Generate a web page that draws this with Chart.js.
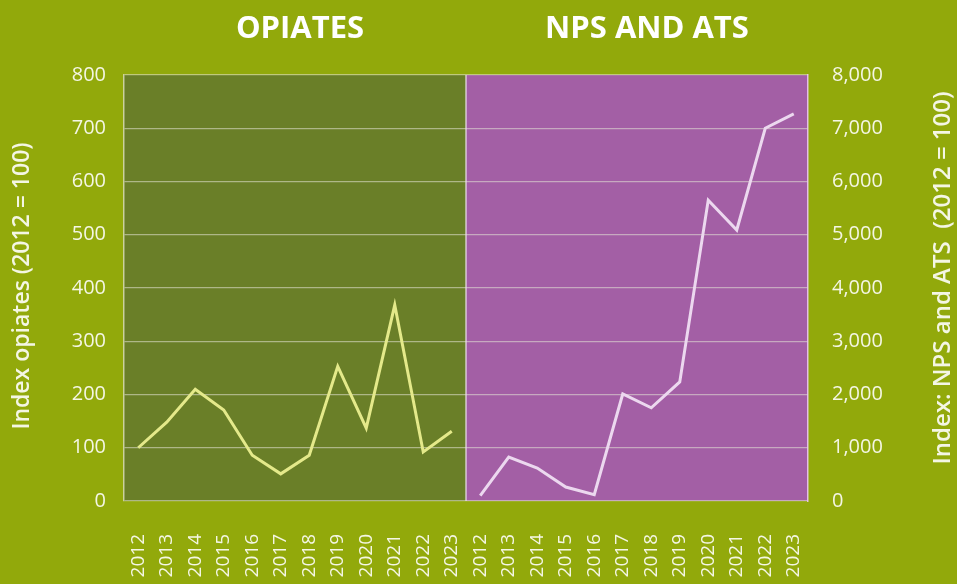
<!DOCTYPE html>
<html>
<head>
<meta charset="utf-8">
<script src="https://cdn.jsdelivr.net/npm/chart.js@4/dist/chart.umd.min.js"></script>
<style>
  html, body { margin: 0; padding: 0; background: #92a90b; }
  #wrap { width: 957px; height: 584px; }
</style>
</head>
<body>
<div id="wrap"><canvas id="chart" width="957" height="584"></canvas></div>
<script>
// Index values, 2012 = 100
const YEARS = ['2012', '2013', '2014', '2015', '2016', '2017', '2018', '2019', '2020', '2021', '2022', '2023']
const OPIATES = [100, 148, 210, 171, 86, 51, 86, 253, 137, 368, 92, 131]
const NPS_ATS = [100, 826, 620, 263, 120, 2010, 1750, 2235, 5650, 5090, 7000, 7270]
const PANEL_TITLES = ['OPIATES', 'NPS AND ATS']
const LEFT_AXIS_TITLE = 'Index opiates (2012 = 100)'
const RIGHT_AXIS_TITLE = 'Index: NPS and ATS  (2012 = 100)'

const BG = '#92a90b'
const FONT = '"Open Sans", sans-serif'
const TEXT = '#f4f6e4'

const labels = [...YEARS, ...YEARS]
const gap = YEARS.map(() => null)

// Green/purple panels, divider and titles
const panelsPlugin = {
  id: 'panels',
  beforeDraw(chart) {
    const { ctx, chartArea: a, scales } = chart
    const mid = (scales.x.getPixelForValue(YEARS.length - 1) + scales.x.getPixelForValue(YEARS.length)) / 2
    ctx.save()
    ctx.fillStyle = BG
    ctx.fillRect(0, 0, chart.width, chart.height)
    ctx.fillStyle = '#6a7f28'
    ctx.fillRect(a.left, a.top, mid - a.left, a.bottom - a.top)
    ctx.fillStyle = '#a35fa5'
    ctx.fillRect(mid, a.top, a.right - mid, a.bottom - a.top)
    ctx.restore()
  },
  afterDraw(chart) {
    const { ctx, chartArea: a, scales } = chart
    const mid = (scales.x.getPixelForValue(YEARS.length - 1) + scales.x.getPixelForValue(YEARS.length)) / 2
    ctx.save()
    ctx.strokeStyle = 'rgba(235,225,235,0.8)'
    ctx.lineWidth = 1.5
    ctx.beginPath()
    ctx.moveTo(mid, a.top)
    ctx.lineTo(mid, a.bottom)
    ctx.stroke()

    ctx.fillStyle = '#ffffff'
    ctx.textAlign = 'center'
    ctx.textBaseline = 'middle'
    ctx.font = 'bold 31px ' + FONT
    ctx.fillText(PANEL_TITLES[0], (a.left + mid) / 2 + 5, 29)
    ctx.fillText(PANEL_TITLES[1], (mid + a.right) / 2 + 10, 29)

    ctx.fillStyle = TEXT
    const cy = (a.top + a.bottom) / 2
    ctx.font = '600 23px ' + FONT
    ctx.translate(22, cy - 2)
    ctx.rotate(-Math.PI / 2)
    ctx.fillText(LEFT_AXIS_TITLE, 0, 0)
    ctx.restore()

    ctx.save()
    ctx.fillStyle = TEXT
    ctx.textAlign = 'center'
    ctx.textBaseline = 'middle'
    ctx.font = '600 24px ' + FONT
    ctx.translate(943, cy - 10)
    ctx.rotate(-Math.PI / 2)
    ctx.fillText(RIGHT_AXIS_TITLE, 0, 0)
    ctx.restore()
  },
}

new Chart(document.getElementById('chart'), {
  type: 'line',
  data: {
    labels,
    datasets: [
      {
        label: 'Opiates',
        data: [...OPIATES, ...gap],
        yAxisID: 'y',
        borderColor: '#e4e98a',
        borderWidth: 3,
        pointRadius: 0,
        tension: 0,
      },
      {
        label: 'NPS and ATS',
        data: [...gap, ...NPS_ATS],
        yAxisID: 'y1',
        borderColor: '#ecd8ef',
        borderWidth: 3,
        pointRadius: 0,
        tension: 0,
      },
    ],
  },
  options: {
    responsive: false,
    animation: false,
    layout: { padding: { top: 75 } },
    plugins: {
      legend: { display: false },
      tooltip: { enabled: false },
    },
    scales: {
      x: {
        offset: true,
        afterFit: (s) => { s.height = 83 },
        grid: { display: false, drawTicks: false },
        border: { display: false },
        ticks: {
          color: TEXT,
          font: { family: FONT, size: 19 },
          minRotation: 90,
          maxRotation: 90,
          padding: 33,
          autoSkip: false,
        },
      },
      y: {
        position: 'left',
        min: 0,
        max: 800,
        afterFit: (s) => { s.width = 124 },
        grid: { color: 'rgba(230,230,215,0.55)', lineWidth: 1.2, drawTicks: false },
        border: { display: true, color: 'rgba(230,230,215,0.7)', width: 1.5 },
        ticks: {
          stepSize: 100,
          color: TEXT,
          font: { family: FONT, size: 20 },
          padding: 18,
        },
      },
      y1: {
        position: 'right',
        min: 0,
        max: 8000,
        afterFit: (s) => { s.width = 149 },
        grid: { display: false, drawTicks: false },
        border: { display: true, color: 'rgba(235,200,240,0.9)', width: 1.5 },
        ticks: {
          stepSize: 1000,
          color: TEXT,
          font: { family: FONT, size: 20 },
          padding: 24,
          callback: (v) => v.toLocaleString('en-US'),
        },
      },
    },
  },
  plugins: [panelsPlugin],
})
</script>
</body>
</html>
